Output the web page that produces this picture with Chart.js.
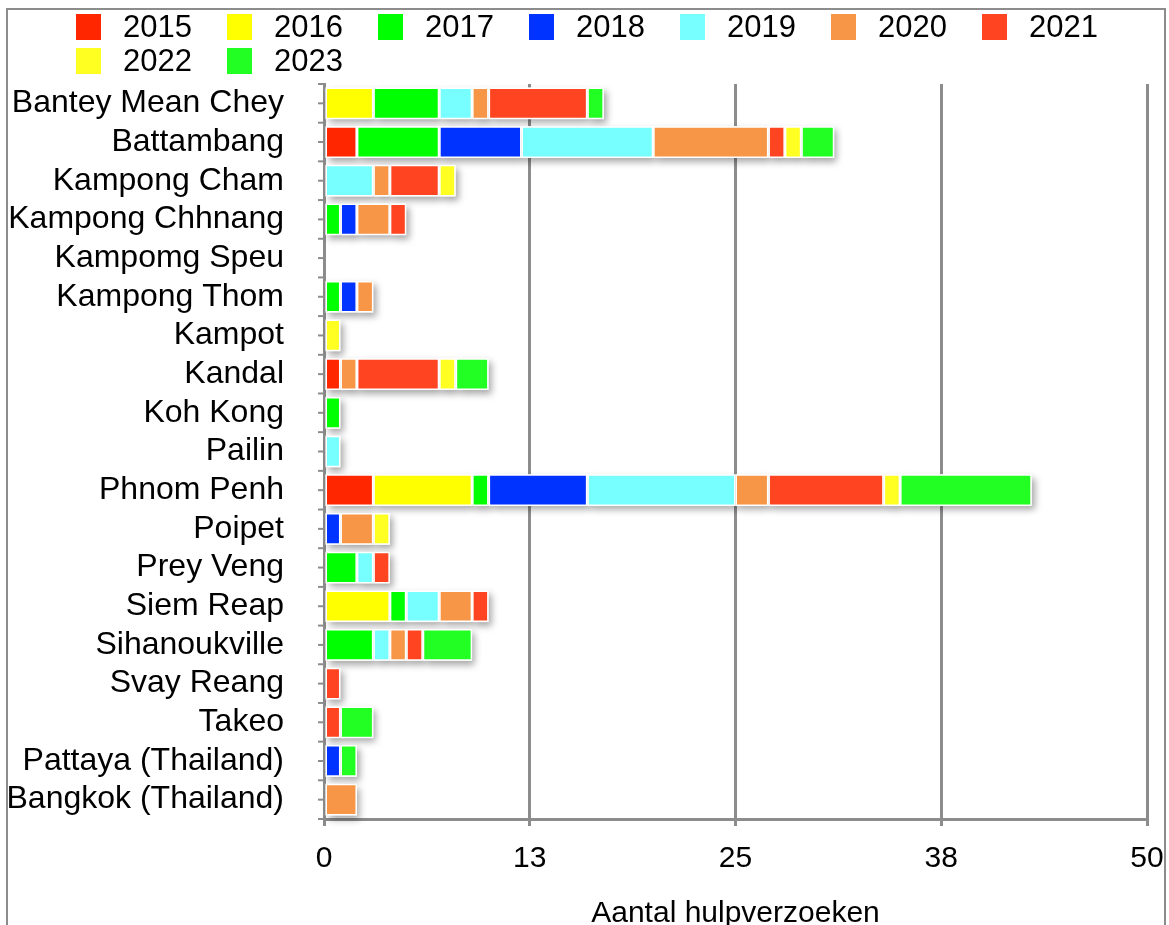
<!DOCTYPE html>
<html>
<head>
<meta charset="utf-8">
<script src="https://cdn.jsdelivr.net/npm/chart.js@4.4.0/dist/chart.umd.min.js"></script>
<style>
  html, body { margin: 0; padding: 0; background: #fff; overflow: hidden; }
  #frame { position: absolute; left: 6px; top: 8px; width: 1160px; height: 1000px; border: 2px solid #8c8c8c; box-sizing: border-box; }
  #wrap { position: absolute; left: 0; top: 0; width: 1169px; height: 940px; }
  #legend { position: absolute; left: 76px; top: 14px; width: 1060px; display: flex; flex-wrap: wrap; row-gap: 8px; font-family: "Liberation Sans", Arial, sans-serif; }
  .item { width: 151px; height: 26px; display: flex; align-items: center; }
  .box { width: 25px; height: 26px; margin-right: 22px; flex: none; }
  .txt { font-size: 31px; line-height: 26px; color: #000; }
</style>
</head>
<body>
<div id="frame"></div>
<div id="wrap"><canvas id="c" width="1169" height="940"></canvas></div>
<div id="legend"></div>
<script>
const categories = ["Bantey Mean Chey","Battambang","Kampong Cham","Kampong Chhnang","Kampomg Speu","Kampong Thom","Kampot","Kandal","Koh Kong","Pailin","Phnom Penh","Poipet","Prey Veng","Siem Reap","Sihanoukville","Svay Reang","Takeo","Pattaya (Thailand)","Bangkok (Thailand)"];
const years = ["2015","2016","2017","2018","2019","2020","2021","2022","2023"];
//                 BMC Bat KCh KCn Spe Tho Kpt Kdl Koh Pai PP  Poi Pre Sie Sih Svy Tak Pat Bkk
const v2015 = [0,  2,  0,  0,  0,  0,  0,  1,  0,  0,  3,  0,  0,  0,  0,  0,  0,  0,  0];
const v2016 = [3,  0,  0,  0,  0,  0,  0,  0,  0,  0,  6,  0,  0,  4,  0,  0,  0,  0,  0];
const v2017 = [4,  5,  0,  1,  0,  1,  0,  0,  1,  0,  1,  0,  2,  1,  3,  0,  0,  0,  0];
const v2018 = [0,  5,  0,  1,  0,  1,  0,  0,  0,  0,  6,  1,  0,  0,  0,  0,  0,  1,  0];
const v2019 = [2,  8,  3,  0,  0,  0,  0,  0,  0,  1,  9,  0,  1,  2,  1,  0,  0,  0,  0];
const v2020 = [1,  7,  1,  2,  0,  1,  0,  1,  0,  0,  2,  2,  0,  2,  1,  0,  0,  0,  2];
const v2021 = [6,  1,  3,  1,  0,  0,  0,  5,  0,  0,  7,  0,  1,  1,  1,  1,  1,  0,  0];
const v2022 = [0,  1,  1,  0,  0,  0,  1,  1,  0,  0,  1,  1,  0,  0,  0,  0,  0,  0,  0];
const v2023 = [1,  2,  0,  0,  0,  0,  0,  2,  0,  0,  8,  0,  0,  0,  3,  0,  2,  1,  0];
const xTickValues = [0, 12.5, 25, 37.5, 50];
const xTickLabels = ["0","13","25","38","50"];
const axisTitle = "Aantal hulpverzoeken";

const colors = ["#ff2600","#ffff00","#00ff00","#0033ff","#77ffff","#f79646","#ff4422","#ffff22","#22ff22"];
const series = [v2015, v2016, v2017, v2018, v2019, v2020, v2021, v2022, v2023];
const FONT = "'Liberation Sans', Arial, sans-serif";

// HTML legend
const lg = document.getElementById('legend');
years.forEach((y, i) => {
  const it = document.createElement('div'); it.className = 'item';
  const b = document.createElement('span'); b.className = 'box'; b.style.background = colors[i];
  const t = document.createElement('span'); t.className = 'txt'; t.textContent = y;
  it.appendChild(b); it.appendChild(t); lg.appendChild(it);
});

const shadowPlugin = {
  id: 'barShadow',
  beforeDatasetsDraw(chart) {
    const ctx = chart.ctx;
    chart.data.datasets.forEach((ds, di) => {
      const meta = chart.getDatasetMeta(di);
      meta.data.forEach((el, j) => {
        if (ds.data[j] == null) return;
        const p = el.getProps(['x','y','base','height'], true);
        ctx.save();
        ctx.shadowColor = 'rgba(0,0,0,0.35)';
        ctx.shadowBlur = 7;
        ctx.shadowOffsetX = 3;
        ctx.shadowOffsetY = 4;
        ctx.fillStyle = '#fff';
        ctx.fillRect(Math.min(p.base, p.x), p.y - p.height / 2, Math.abs(p.x - p.base), p.height);
        ctx.restore();
      });
    });
  }
};

const yTickPlugin = {
  id: 'yTicks',
  afterDraw(chart) {
    const ys = chart.scales.y, ctx = chart.ctx;
    const band = ys.getPixelForValue(1) - ys.getPixelForValue(0);
    ctx.save();
    ctx.strokeStyle = '#8c8c8c';
    ctx.lineWidth = 2;
    const marks = [];
    categories.forEach((c, i) => {
      const py = ys.getPixelForValue(i);
      marks.push(py - band / 2, py);
      if (i === categories.length - 1) marks.push(py + band / 2);
    });
    marks.forEach(m => {
      ctx.beginPath();
      ctx.moveTo(ys.right - 6, m);
      ctx.lineTo(ys.right, m);
      ctx.stroke();
    });
    ctx.restore();
  }
};

new Chart(document.getElementById('c'), {
  type: 'bar',
  data: {
    labels: categories,
    datasets: series.map((arr, i) => ({
      label: years[i],
      data: arr.map(v => v === 0 ? null : v),
      backgroundColor: colors[i],
      borderColor: '#ffffff',
      borderWidth: 1.5,
      borderSkipped: false,
      categoryPercentage: 0.82,
      barPercentage: 1.0
    }))
  },
  options: {
    indexAxis: 'y',
    responsive: false,
    animation: false,
    layout: { padding: { top: 84, right: 22, bottom: 8, left: 0 } },
    plugins: { legend: { display: false }, tooltip: { enabled: false } },
    scales: {
      x: {
        stacked: true,
        min: 0, max: 50,
        afterBuildTicks: (s) => { s.ticks = xTickValues.map(v => ({ value: v })); },
        afterFit: (s) => { s.paddingRight = 0; s.paddingLeft = 0; },
        grid: { color: '#8c8c8c', lineWidth: 3, tickLength: 7, drawTicks: true },
        border: { color: '#8c8c8c', width: 3 },
        ticks: {
          font: { size: 30, family: FONT }, color: '#000', padding: 15, maxRotation: 0,
          callback: (v, i) => xTickLabels[i]
        },
        title: { display: true, text: axisTitle, font: { size: 30, family: FONT }, color: '#000', padding: { top: 4, bottom: 0 } }
      },
      y: {
        stacked: true,
        grid: { display: false, drawTicks: false },
        border: { color: '#8c8c8c', width: 3 },
        ticks: { font: { size: 32, family: FONT }, color: '#000', padding: 40, autoSkip: false },
        afterFit: (s) => { s.width = 324; }
      }
    }
  },
  plugins: [shadowPlugin, yTickPlugin]
});
</script>
</body>
</html>
